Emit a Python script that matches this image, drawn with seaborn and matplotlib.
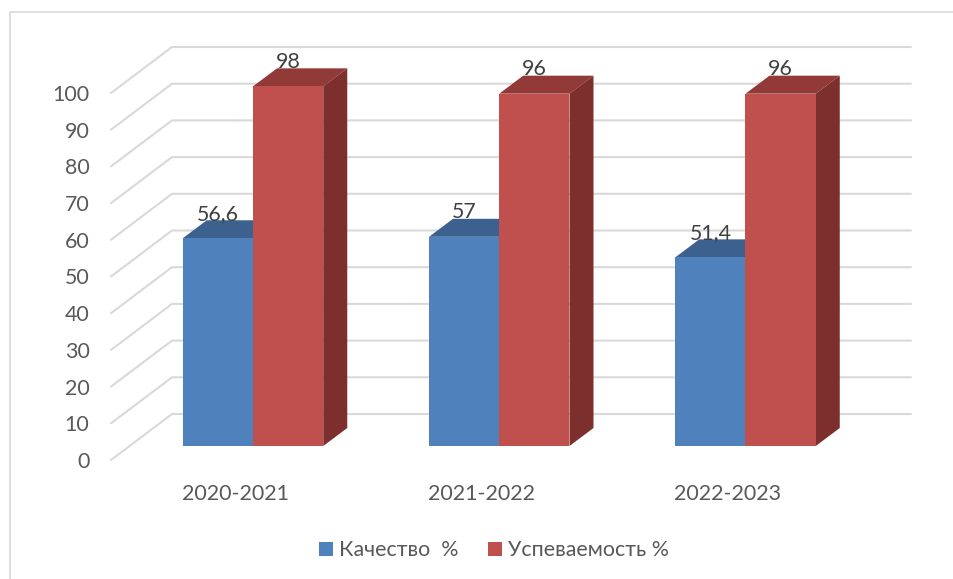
import matplotlib
matplotlib.use('Agg')
import matplotlib.pyplot as plt
from matplotlib.lines import Line2D
from matplotlib.patches import Polygon
import pandas as pd
import seaborn as sns

years = ['2020-2021', '2021-2022', '2022-2023']
series_names = ['Качество  %', 'Успеваемость %']
quality = [56.6, 57, 51.4]
progress = [98, 96, 96]
y_ticks = [0, 10, 20, 30, 40, 50, 60, 70, 80, 90, 100]

W, H = 954, 579
# pixels per data unit
PX_X = 246.25
PX_Y = 3.67
FS = 15.4

sns.set_style('white')
plt.rcParams['font.family'] = ['Lato', 'Open Sans', 'DejaVu Sans']

df = pd.DataFrame({
    'year': years * 2,
    'value': quality + progress,
    'series': [series_names[0]] * 3 + [series_names[1]] * 3,
})

fig = plt.figure(figsize=(W / 100, H / 100), dpi=100)
# axes box runs from the front left corner of the floor to the end of the back wall
left, right, top, bottom = 111, 911, 47, 460
ax = fig.add_axes([left / W, 1 - bottom / H, (right - left) / W, (bottom - top) / H])

sns.barplot(data=df, x='year', y='value', hue='series', ax=ax, width=140.5 / PX_X,
            palette=['#4f81bd', '#c0504d'], saturation=1, linewidth=0, zorder=3)

ax.set_xlim((left - 253) / PX_X, (right - 253) / PX_X)
base = 446
ax.set_ylim((base - bottom) / PX_Y, (base - top) / PX_Y)

# the bars stand 14 px above the front edge of the floor, back wall is 46 px up
front_dy = -(bottom - base) / PX_Y
wall_dy = (base - 414) / PX_Y
wall_x = (172 - 253) / PX_X
x0, x1 = ax.get_xlim()

for v in y_ticks:
    ax.plot([x0, wall_x, x1], [v + front_dy, v + wall_dy, v + wall_dy], color='#d9d9d9',
            lw=1.5, zorder=1, clip_on=False, solid_joinstyle='miter')

# depth faces of the bars
depth_x = 24 / PX_X
depth_y = 18 / PX_Y
top_colors = ['#3c618f', '#913a38']
side_colors = ['#3a5f8b', '#7c2f2d']
for c, cont in enumerate(ax.containers):
    for bar in cont:
        xa = bar.get_x()
        xb = xa + bar.get_width()
        h = bar.get_height()
        ax.add_patch(Polygon([(xa, h), (xb, h), (xb + depth_x, h + depth_y), (xa + depth_x, h + depth_y)],
                             color=top_colors[c], lw=0, zorder=2.5 + c))
        ax.add_patch(Polygon([(xb, 0), (xb, h), (xb + depth_x, h + depth_y), (xb + depth_x, depth_y)],
                             color=side_colors[c], lw=0, zorder=2.5 + c))
        bar.set_zorder(2.7 + c)
        ax.text(xa + bar.get_width() / 2, h + 24.5 / PX_Y, f'{h:g}'.replace('.', ','),
                ha='center', va='center', fontsize=FS, color='#404040', zorder=6)

ax.set_yticks([v + front_dy for v in y_ticks], [str(v) for v in y_ticks])
ax.set_xticks([i - 17.5 / PX_X for i in range(len(years))], years)
ax.tick_params(axis='y', length=0, pad=15.5, labelsize=FS, labelcolor='#595959')
ax.tick_params(axis='x', length=0, pad=17, labelsize=FS, labelcolor='#595959')
ax.set_xlabel('')
ax.set_ylabel('')
sns.despine(ax=ax, left=True, bottom=True)

handles, labels = ax.get_legend_handles_labels()
ax.legend(handles, labels, ncol=2, frameon=False, loc='center',
          bbox_to_anchor=(494 / W, 1 - 550.5 / H), bbox_transform=fig.transFigure,
          fontsize=FS, labelcolor='#595959', handlelength=0.65, handleheight=0.65,
          handletextpad=0.28, columnspacing=1.4, borderpad=0)

# outer chart frame, only left and top are inside the picture
fig.add_artist(Line2D([10 / W, 10 / W, 1], [0, 1 - 11.5 / H, 1 - 11.5 / H], color='#d9d9d9', lw=1.2))

fig.savefig('out.png', dpi=100)
